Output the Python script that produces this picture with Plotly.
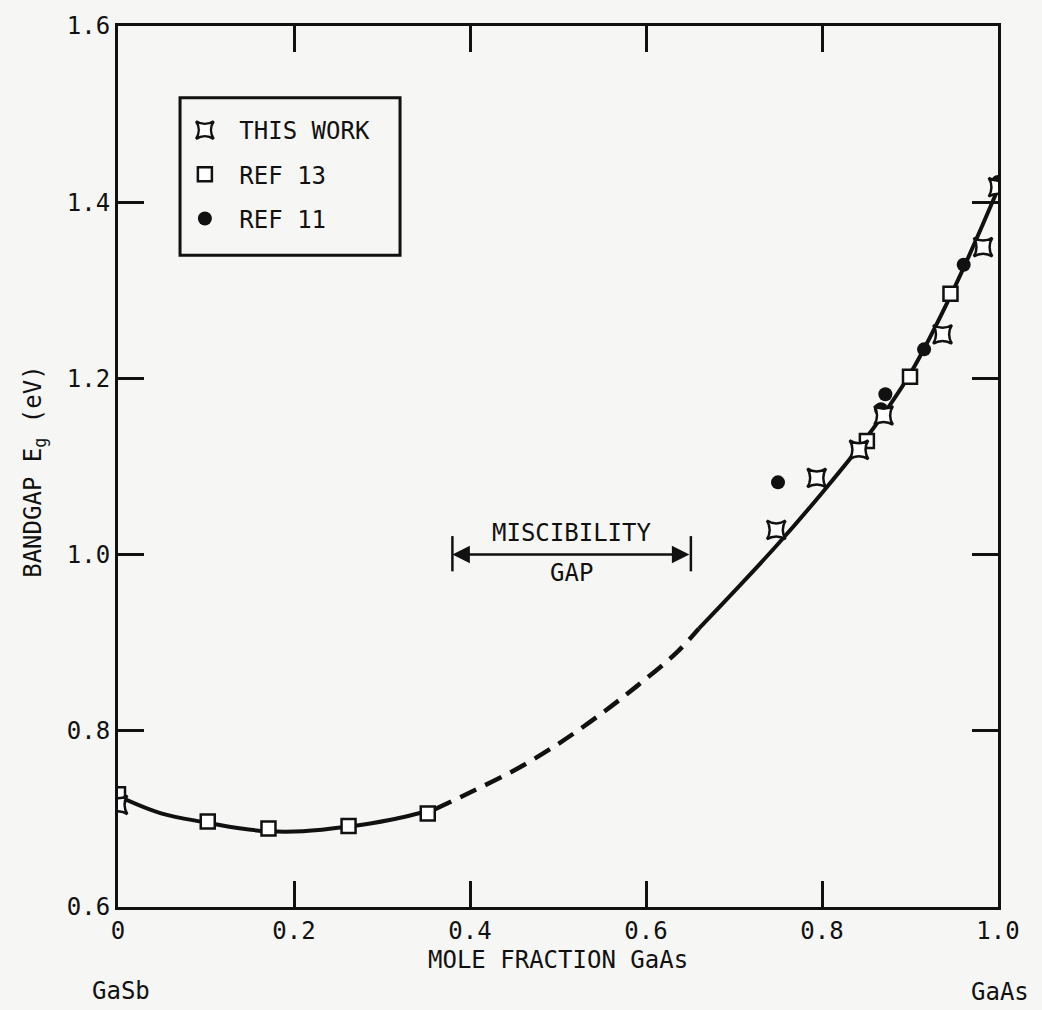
import plotly.graph_objects as go

# ---- data ----
this_work_x = [0.0, 0.748, 0.794, 0.842, 0.870, 0.937, 0.983, 1.0]
this_work_y = [0.716, 1.028, 1.087, 1.119, 1.158, 1.250, 1.349, 1.417]

ref13_x = [0.0, 0.102, 0.171, 0.262, 0.352, 0.851, 0.900, 0.946]
ref13_y = [0.728, 0.697, 0.689, 0.692, 0.706, 1.129, 1.202, 1.296]

ref11_x = [0.750, 0.867, 0.872, 0.916, 0.961, 1.0]
ref11_y = [1.082, 1.165, 1.182, 1.233, 1.329, 1.423]

fit_low_x = [0.0, 0.05, 0.10, 0.14, 0.17, 0.21, 0.26, 0.31, 0.36]
fit_low_y = [0.726, 0.706, 0.696, 0.689, 0.686, 0.686, 0.691, 0.699, 0.711]

fit_gap_x = [0.36, 0.40, 0.45, 0.50, 0.55, 0.59, 0.635, 0.66]
fit_gap_y = [0.711, 0.730, 0.755, 0.785, 0.820, 0.851, 0.889, 0.916]

fit_high_x = [0.66, 0.70, 0.75, 0.80, 0.85, 0.90, 0.95, 1.0]
fit_high_y = [0.916, 0.958, 1.012, 1.070, 1.132, 1.205, 1.302, 1.415]

x_tick_vals = [0, 0.2, 0.4, 0.6, 0.8, 1.0]
x_tick_text = ["0", "0.2", "0.4", "0.6", "0.8", "1.0"]
y_tick_vals = [0.6, 0.8, 1.0, 1.2, 1.4, 1.6]
y_tick_text = ["0.6", "0.8", "1.0", "1.2", "1.4", "1.6"]

gap_start, gap_end, gap_level = 0.38, 0.651, 1.0

INK = "#111111"
BG = "#f6f6f5"
FONT = "DejaVu Sans Mono"
NB = "\u00a0"

fig = go.Figure()

fig.add_trace(go.Scatter(x=fit_low_x, y=fit_low_y, mode="lines", line=dict(color=INK, width=4, shape="spline"),
                         showlegend=False, hoverinfo="skip"))
fig.add_trace(go.Scatter(x=fit_gap_x, y=fit_gap_y, mode="lines",
                         line=dict(color=INK, width=4.5, shape="spline", dash="18px,10px"),
                         showlegend=False, hoverinfo="skip"))
fig.add_trace(go.Scatter(x=fit_high_x, y=fit_high_y, mode="lines", line=dict(color=INK, width=4, shape="spline"),
                         showlegend=False, hoverinfo="skip"))

# drawn bottom-to-top: circles, squares, crosses; legend order set by legendrank
fig.add_trace(go.Scatter(x=ref11_x, y=ref11_y, mode="markers", name=NB + "REF 11",
                         legendgroup="c", legendrank=3,
                         marker=dict(symbol="circle", size=14, color=INK, line=dict(width=0))))
fig.add_trace(go.Scatter(x=ref13_x, y=ref13_y, mode="markers", name=NB + "REF 13",
                         legendgroup="b", legendrank=2,
                         marker=dict(symbol="square", size=14, color="white", line=dict(width=2.5, color=INK))))
fig.add_trace(go.Scatter(x=this_work_x, y=this_work_y, mode="markers", name=NB + "THIS WORK",
                         legendgroup="a", legendrank=1,
                         marker=dict(symbol="star-square", size=17, color="white", line=dict(width=2.5, color=INK))))

axis_common = dict(
    showgrid=False, zeroline=False, showline=True, linecolor=INK, linewidth=3,
    mirror="ticks", ticks="inside", ticklen=26, tickwidth=3, tickcolor=INK,
    tickfont=dict(family=FONT, size=24, color=INK),
)
fig.update_xaxes(range=[0, 1.0], tickmode="array", tickvals=x_tick_vals, ticktext=x_tick_text, **axis_common)
fig.update_yaxes(range=[0.6, 1.6], tickmode="array", tickvals=y_tick_vals, ticktext=y_tick_text, **axis_common)

# miscibility gap marker
for gx in (gap_start, gap_end):
    fig.add_shape(type="line", xref="x", yref="y", x0=gx, x1=gx, y0=gap_level - 0.019, y1=gap_level + 0.021,
                  line=dict(color=INK, width=2.5))
fig.add_annotation(x=gap_start, y=gap_level, ax=gap_end, ay=gap_level, xref="x", yref="y", axref="x", ayref="y",
                   text="", showarrow=True, arrowhead=2, arrowsize=1.4, arrowwidth=2.5, arrowcolor=INK,
                   arrowside="end+start", standoff=0, startstandoff=0)
fig.add_annotation(x=(gap_start + gap_end) / 2, y=gap_level + 0.024, xref="x", yref="y", text="MISCIBILITY",
                   showarrow=False, font=dict(family=FONT, size=24, color=INK), yanchor="middle")
fig.add_annotation(x=(gap_start + gap_end) / 2, y=gap_level - 0.021, xref="x", yref="y", text="GAP",
                   showarrow=False, font=dict(family=FONT, size=24, color=INK), yanchor="middle")

# axis titles and end labels
fig.add_annotation(x=0.5, y=-0.06, xref="paper", yref="paper", text="MOLE FRACTION GaAs", showarrow=False,
                   font=dict(family=FONT, size=24, color=INK), xanchor="center", yanchor="middle")
fig.add_annotation(x=-0.0943, y=0.494, xref="paper", yref="paper", text="BANDGAP E<sub>g</sub> (eV)",
                   showarrow=False, textangle=-90, font=dict(family=FONT, size=24, color=INK),
                   xanchor="center", yanchor="middle")
fig.add_annotation(x=0.0034, y=-0.0955, xref="paper", yref="paper", text="GaSb", showarrow=False,
                   font=dict(family=FONT, size=24, color=INK), xanchor="center", yanchor="middle", borderpad=0)
fig.add_annotation(x=1.036, y=-0.097, xref="paper", yref="paper", text="GaAs", showarrow=False,
                   font=dict(family=FONT, size=24, color=INK), xanchor="right", yanchor="middle", borderpad=0)

# legend frame
fig.add_shape(type="rect", xref="paper", yref="paper", x0=0.0705, x1=0.3205, y0=0.7398, y1=0.9186,
              line=dict(color=INK, width=3), fillcolor="rgba(0,0,0,0)")

fig.update_layout(
    width=1042, height=1010,
    margin=dict(l=118, r=44, t=23, b=103),
    paper_bgcolor=BG, plot_bgcolor=BG,
    font=dict(family=FONT, size=24, color=INK),
    showlegend=True,
    legend=dict(x=0.076, y=0.907, xanchor="left", yanchor="top", bgcolor="rgba(0,0,0,0)", borderwidth=0,
                font=dict(family=FONT, size=24, color=INK), tracegroupgap=10, traceorder="grouped"),
)

fig.write_html("out.html")
